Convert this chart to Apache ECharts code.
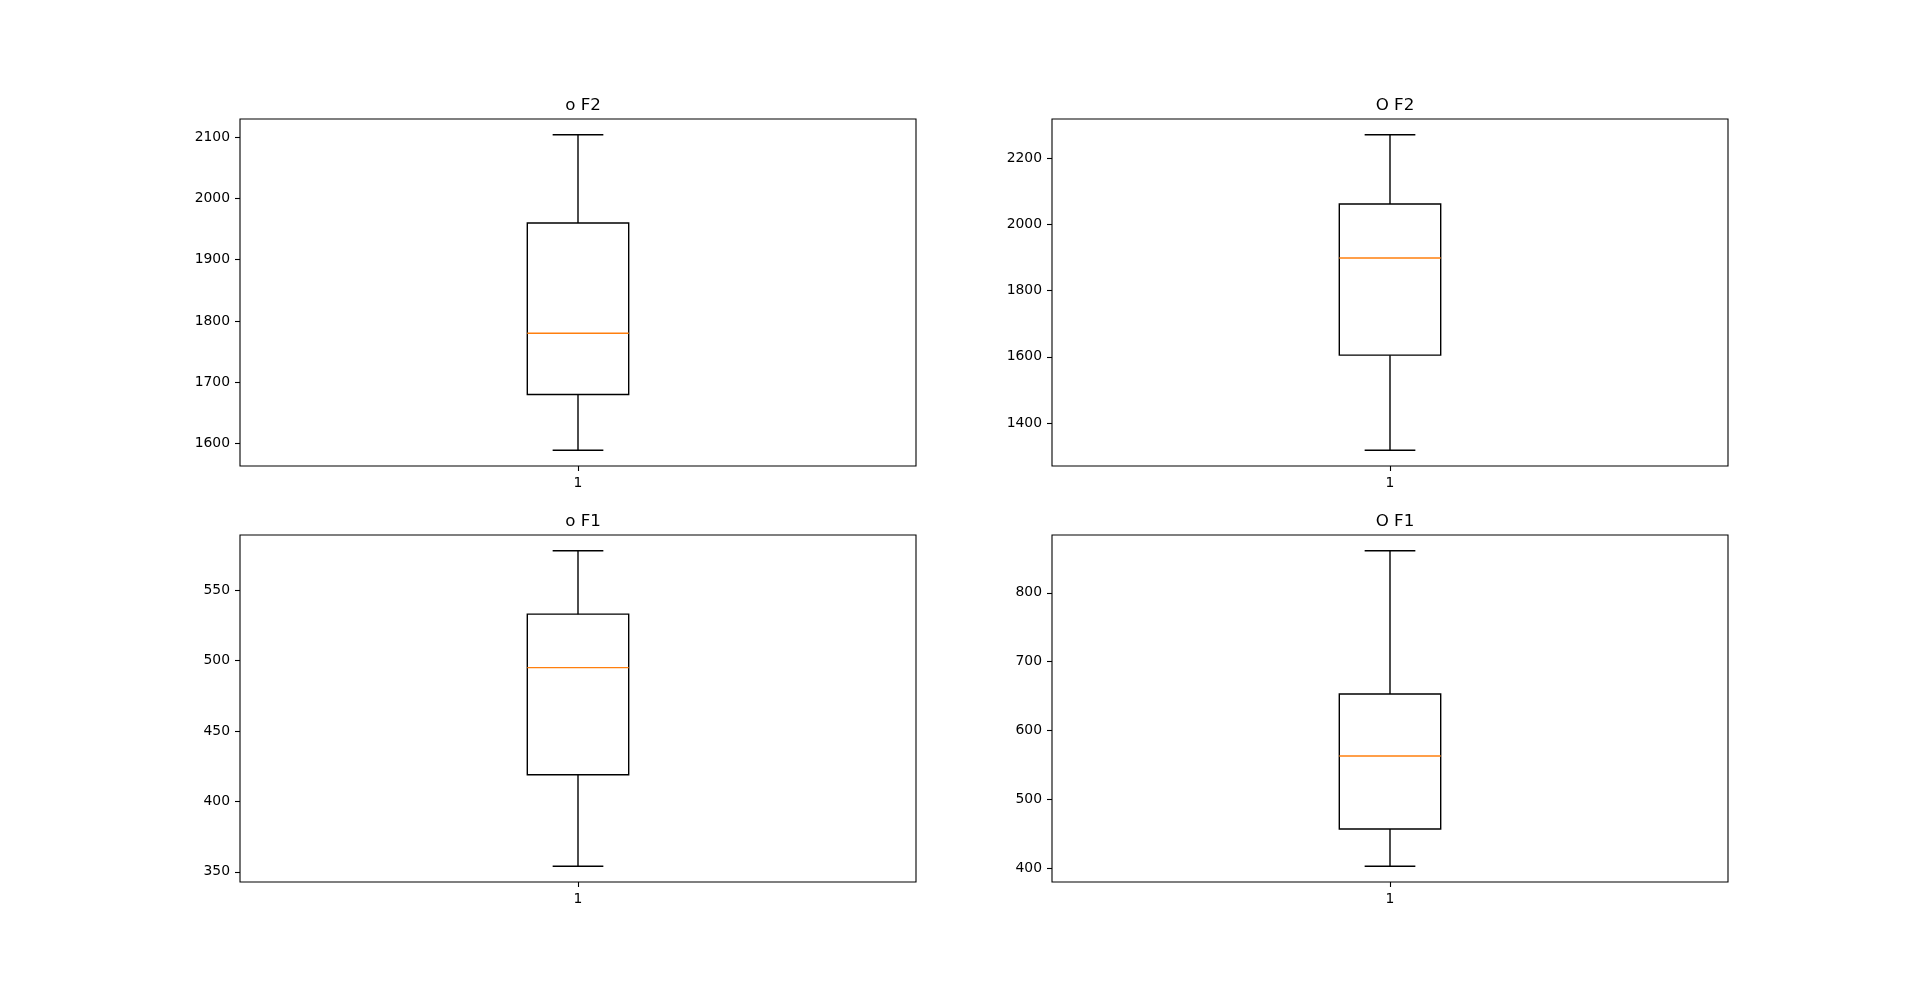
<!DOCTYPE html>
<html>
<head>
<meta charset="utf-8">
<title>Box plots</title>
<script src="https://cdn.jsdelivr.net/npm/echarts@6/dist/echarts.min.js"></script>
<style>
  html, body { margin: 0; padding: 0; background: #fff; }
  #main { width: 1920px; height: 991px; }
</style>
</head>
<body>
<div id="main"></div>
<script>
// box stats per panel: [lower whisker, Q1, median, Q3, upper whisker]
const categories = ['1'];
const oF2 = [1589, 1680, 1780, 1960, 2104];
const OF2 = [1318, 1605, 1898, 2061, 2270];
const oF1 = [354, 419, 495, 533, 578];
const OF1 = [403, 457, 563, 653, 861];

const oF2Ticks = [1600, 1700, 1800, 1900, 2000, 2100];
const OF2Ticks = [1400, 1600, 1800, 2000, 2200];
const oF1Ticks = [350, 400, 450, 500, 550];
const OF1Ticks = [400, 500, 600, 700, 800];

const chart = echarts.init(document.getElementById('main'), null, { renderer: 'canvas' });

const FONT = 'DejaVu Sans';
const BOX_HALF = 0.075;   // box width 0.15 in x units
const CAP_HALF = 0.0375;

const panels = [
  { title: 'o F2', stats: oF2, ticks: oF2Ticks, left: 240, top: 119 },
  { title: 'O F2', stats: OF2, ticks: OF2Ticks, left: 1052, top: 119 },
  { title: 'o F1', stats: oF1, ticks: oF1Ticks, left: 240, top: 535 },
  { title: 'O F1', stats: OF1, ticks: OF1Ticks, left: 1052, top: 535 }
];
const W = 676, H = 347;

function renderBox(params, api) {
  const x = api.value(0);
  const lo = api.value(1), q1 = api.value(2), med = api.value(3), q3 = api.value(4), hi = api.value(5);
  const tl = api.coord([x - BOX_HALF, q3]);
  const br = api.coord([x + BOX_HALF, q1]);
  const cTop = api.coord([x, hi]);
  const cBot = api.coord([x, lo]);
  const capL = api.coord([x - CAP_HALF, hi])[0];
  const capR = api.coord([x + CAP_HALF, hi])[0];
  const medY = api.coord([x, med])[1];
  const st = { stroke: '#000', lineWidth: 1.4, fill: null };
  return {
    type: 'group',
    children: [
      { type: 'rect', shape: { x: tl[0], y: tl[1], width: br[0] - tl[0], height: br[1] - tl[1] }, style: st },
      { type: 'line', shape: { x1: cTop[0], y1: cTop[1], x2: cTop[0], y2: tl[1] }, style: st },
      { type: 'line', shape: { x1: cBot[0], y1: br[1], x2: cBot[0], y2: cBot[1] }, style: st },
      { type: 'line', shape: { x1: capL, y1: cTop[1], x2: capR, y2: cTop[1] }, style: st },
      { type: 'line', shape: { x1: capL, y1: cBot[1], x2: capR, y2: cBot[1] }, style: st },
      { type: 'line', shape: { x1: tl[0], y1: medY, x2: br[0], y2: medY }, style: { stroke: '#ff7f0e', lineWidth: 1.4 } }
    ]
  };
}

const option = {
  backgroundColor: '#fff',
  animation: false,
  title: panels.map(p => ({
    text: p.title,
    left: p.left + W / 2,
    top: p.top - 27,
    textAlign: 'center',
    textStyle: { fontFamily: FONT, fontSize: 16.7, fontWeight: 'normal', color: '#000' }
  })),
  grid: panels.map(p => ({
    left: p.left, top: p.top, width: W, height: H,
    show: true, borderColor: '#000', borderWidth: 1.1, backgroundColor: 'transparent',
    containLabel: false
  })),
  xAxis: panels.map((p, i) => ({
    type: 'value', gridIndex: i, min: 0.5, max: 1.5,
    splitLine: { show: false },
    axisLine: { show: false },
    axisTick: { show: true, length: 5, lineStyle: { color: '#000', width: 1.1 },
      customValues: categories.map((c, k) => k + 1) },
    axisLabel: { color: '#000', fontFamily: FONT, fontSize: 13.9, margin: 10,
      customValues: categories.map((c, k) => k + 1),
      formatter: v => categories[Math.round(v) - 1] }
  })),
  yAxis: panels.map((p, i) => {
    const lo = p.stats[0], hi = p.stats[4], pad = (hi - lo) * 0.05;
    return {
      type: 'value', gridIndex: i, min: lo - pad, max: hi + pad,
      splitLine: { show: false },
      axisLine: { show: false },
      axisTick: { show: true, length: 5, lineStyle: { color: '#000', width: 1.1 }, customValues: p.ticks },
      axisLabel: { color: '#000', fontFamily: FONT, fontSize: 13.9, margin: 10, customValues: p.ticks,
        formatter: v => String(v) }
    };
  }),
  series: panels.map((p, i) => ({
    type: 'custom',
    name: p.title,
    xAxisIndex: i, yAxisIndex: i,
    renderItem: renderBox,
    encode: { x: 0, y: [1, 2, 3, 4, 5] },
    data: [[1].concat(p.stats)],
    clip: false
  }))
};

chart.setOption(option);
</script>
</body>
</html>
